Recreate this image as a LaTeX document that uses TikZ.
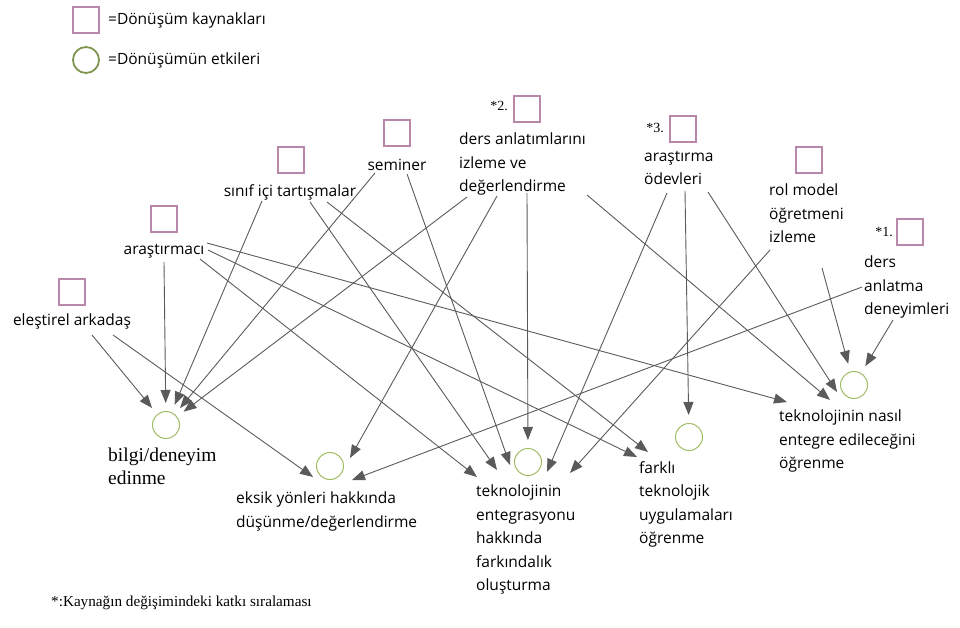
\documentclass[tikz,border=0pt]{standalone}
\usepackage{fontspec}
\setmainfont{Liberation Serif}
\setsansfont{Open Sans}
\usetikzlibrary{arrows.meta}
\definecolor{kaynak}{RGB}{185,135,170}
\definecolor{etki}{RGB}{160,188,100}
\definecolor{oklar}{RGB}{90,90,90}

\begin{document}
\begin{tikzpicture}[x=1pt, y=-1pt,
  kutu/.style={draw=kaynak, line width=1.2pt, minimum size=26pt, inner sep=0pt},
  halka/.style={circle, draw=etki, line width=1pt, minimum size=27pt, inner sep=0pt},
  yazi/.style={font=\sffamily\fontsize{15.5}{23.5}\selectfont, inner sep=0pt, align=left},
  serif/.style={font=\fontsize{19.5}{23}\selectfont, inner sep=0pt, align=left},
  sira/.style={font=\fontsize{14}{16}\selectfont, inner sep=0pt},
  ok/.style={draw=oklar, line width=0.9pt, -{Triangle[length=13pt, width=10pt]}},
  okh/.style={ok, shorten >=8pt}]
\useasboundingbox (0,0) rectangle (960,628);

% legend
\node (Lk) at (86, 20) [kutu] {};
\node (Lkt) at (108, 20) [yazi, anchor=west] {=Dönüşüm kaynakları};
\node (Lh) at (86, 60) [halka, draw=etki!80!black, line width=1.8pt, minimum size=26pt] {};
\node (Lht) at (108, 60) [yazi, anchor=west] {=Dönüşümün etkileri};

% sources
\node (As) at (72, 292) [kutu] {};
\node (A) at (72, 321) [yazi] {eleştirel arkadaş};
\node (Bs) at (164, 219) [kutu] {};
\node (B) at (164, 251) [yazi] {araştırmacı};
\node (Cs) at (291, 160) [kutu] {};
\node (C) at (290, 192) [yazi] {sınıf içi tartışmalar};
\node (Ds) at (397, 133) [kutu] {};
\node (D) at (397, 165) [yazi] {seminer};
\node (Es) at (527, 109) [kutu] {};
\node (En) at (499, 106) [sira] {*2.};
\node (E) at (459, 133) [yazi, anchor=north west] {ders anlatımlarını\\izleme ve\\değerlendirme};
\node (Fs) at (683, 129) [kutu] {};
\node (Fn) at (655, 128) [sira] {*3.};
\node (F) at (644, 151) [yazi, anchor=north west] {araştırma\\ödevleri};
\node (Gs) at (809, 160) [kutu] {};
\node (G) at (769, 184) [yazi, anchor=north west] {rol model\\öğretmeni\\izleme};
\node (Hs) at (910, 232) [kutu] {};
\node (Hn) at (884, 232) [sira] {*1.};
\node (H) at (864, 256) [yazi, anchor=north west] {ders\\anlatma\\deneyimleri};

% effects
\node (P) at (166, 425) [halka] {};
\node (Pt) at (108, 448) [serif, anchor=north west] {bilgi/deneyim\\edinme};
\node (Q) at (330, 466) [halka] {};
\node (Qt) at (236, 492) [yazi, anchor=north west] {eksik yönleri hakkında\\düşünme/değerlendirme};
\node (R) at (528, 462) [halka] {};
\node (Rt) at (476, 485) [yazi, anchor=north west] {teknolojinin\\entegrasyonu\\hakkında\\farkındalık\\oluşturma};
\node (S) at (689, 437) [halka] {};
\node (St) at (639, 461) [yazi, anchor=north west] {farklı\\teknolojik\\uygulamaları\\öğrenme};
\node (T) at (854, 385) [halka] {};
\node (Tt) at (779, 410) [yazi, anchor=north west] {teknolojinin nasıl\\entegre edileceğini\\öğrenme};

\node (Not) at (51, 603) [sira, font=\fontsize{15.2}{16}\selectfont, anchor=west] {*:Kaynağın değişimindeki katkı sıralaması};

% eleştirel arkadaş
\draw ([shift={(20,14)}]A.center) edge [okh] (P);
\draw ([shift={(41,14)}]A.center) edge [ok] ([shift={(-17,11)}]Q.center);
% araştırmacı
\draw ([shift={(0,11)}]B.center) edge [okh] (P);
\draw ([shift={(43,-8)}]B.center) edge [ok] ([shift={(-67,17)}]T.center);
\draw ([shift={(44,-1)}]B.center) edge [ok] ([shift={(-52,20)}]S.center);
\draw ([shift={(36,8)}]B.center) edge [ok] ([shift={(-51,15)}]R.center);
% sınıf içi tartışmalar
\draw ([shift={(-28,9)}]C.center) edge [okh] (P);
\draw ([shift={(20,10)}]C.center) edge [ok] ([shift={(-31,8)}]R.center);
\draw ([shift={(37,10)}]C.center) edge [ok] ([shift={(-41,15)}]S.center);
% seminer
\draw ([shift={(-22,8)}]D.center) edge [okh] (P);
\draw ([shift={(10,9)}]D.center) edge [ok] ([shift={(-18,3)}]R.center);
% ders anlatımlarını izleme ve değerlendirme
\draw ([shift={(8,64)}]E.north west) edge [okh] (P);
\draw ([shift={(38,63)}]E.north west) edge [ok] ([shift={(20,-8)}]Q.center);
\draw ([shift={(68,60)}]E.north west) edge [okh] (R);
\draw ([shift={(128,62)}]E.north west) edge [ok] ([shift={(-24,15)}]T.center);
% araştırma ödevleri
\draw ([shift={(23,42)}]F.north west) edge [ok] ([shift={(19,10)}]R.center);
\draw ([shift={(41,40)}]F.north west) edge [okh] (S);
\draw ([shift={(64,41)}]F.north west) edge [ok] ([shift={(-17,7)}]T.center);
% rol model öğretmeni izleme
\draw ([shift={(1,66)}]G.north west) edge [ok] ([shift={(42,11)}]R.center);
\draw ([shift={(53,84)}]G.north west) edge [okh] (T);
% ders anlatma deneyimleri
\draw ([shift={(-2,31)}]H.north west) edge [ok] ([shift={(22,14)}]Q.center);
\draw ([shift={(29,64)}]H.north west) edge [okh] (T);
\end{tikzpicture}
\end{document}
